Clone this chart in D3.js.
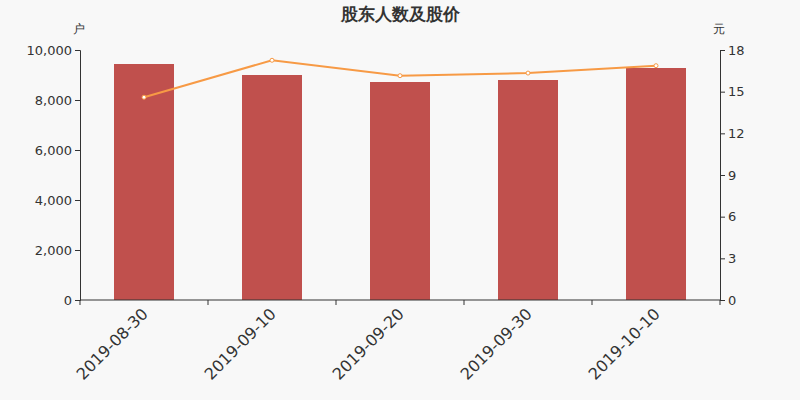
<!DOCTYPE html>
<html>
<head>
<meta charset="utf-8">
<script src="https://cdn.jsdelivr.net/npm/d3@7"></script>
<style>
body { margin: 0; background: #f8f8f8; }
svg { display: block; font-family: "DejaVu Sans", sans-serif; }
</style>
</head>
<body>
<script>
var w = 800;
var h = 400;
var dates = ['2019-08-30', '2019-09-10', '2019-09-20', '2019-09-30', '2019-10-10'];
var holders = [9440, 9000, 8720, 8800, 9280];
var prices = [14.6, 17.26, 16.15, 16.34, 16.87];
var leftTicks = [0, 2000, 4000, 6000, 8000, 10000];
var rightTicks = [0, 3, 6, 9, 12, 15, 18];

var margin = {top: 50, right: 80, bottom: 100, left: 80};

var svg = d3.select('body')
   .append('svg')
   .attr('width', w)
   .attr('height', h);

svg.append('rect')
   .attr('width', w)
   .attr('height', h)
   .attr('fill', '#f8f8f8');

var x = d3.scaleBand()
   .domain(dates)
   .range([margin.left, w - margin.right]);
var yL = d3.scaleLinear()
   .domain([0, 10000])
   .range([h - margin.bottom, margin.top]);
var yR = d3.scaleLinear()
   .domain([0, 18])
   .range([h - margin.bottom, margin.top]);

var barW = 60;

// bars
svg.selectAll('rect.bar')
   .data(holders)
   .enter()
   .append('rect')
   .attr('class', 'bar')
   .attr('x', function(d, i) { return x(dates[i]) + x.bandwidth() / 2 - barW / 2; })
   .attr('y', function(d) { return yL(d); })
   .attr('width', barW)
   .attr('height', function(d) { return yL(0) - yL(d); })
   .attr('fill', '#c0504d');

// price line
var line = d3.line()
   .x(function(d, i) { return x(dates[i]) + x.bandwidth() / 2; })
   .y(function(d) { return yR(d); });

svg.append('path')
   .datum(prices)
   .attr('d', line)
   .attr('fill', 'none')
   .attr('stroke', '#f79a45')
   .attr('stroke-width', 2);

svg.selectAll('circle')
   .data(prices)
   .enter()
   .append('circle')
   .attr('cx', function(d, i) { return x(dates[i]) + x.bandwidth() / 2; })
   .attr('cy', function(d) { return yR(d); })
   .attr('r', 2)
   .attr('fill', '#fff')
   .attr('stroke', '#f79a45')
   .attr('stroke-width', 1);

// axes
var leftAxis = d3.axisLeft(yL).tickValues(leftTicks).tickSize(5).tickFormat(d3.format(','));
var rightAxis = d3.axisRight(yR).tickValues(rightTicks).tickSize(5);
var bottomAxis = d3.axisBottom(x).tickSize(0).tickFormat('');

function styleAxis(g) {
   g.select('.domain').attr('stroke', '#333');
   g.selectAll('.tick line').attr('stroke', '#333');
   g.selectAll('.tick text')
      .attr('fill', '#333')
      .attr('font-size', '13px')
      .attr('font-family', '"DejaVu Sans", sans-serif');
}

svg.append('g')
   .attr('transform', 'translate(' + margin.left + ',0)')
   .call(leftAxis)
   .call(styleAxis);

svg.append('g')
   .attr('transform', 'translate(' + (w - margin.right) + ',0)')
   .call(rightAxis)
   .call(styleAxis);

var gx = svg.append('g')
   .attr('transform', 'translate(0,' + (h - margin.bottom) + ')')
   .call(bottomAxis)
   .call(styleAxis);
gx.select('.domain').attr('d', 'M' + margin.left + ',0H' + (w - margin.right));

// tick marks at band boundaries
var bounds = dates.map(function(d) { return x(d); }).concat([w - margin.right]);
gx.selectAll('line.bound')
   .data(bounds)
   .enter()
   .append('line')
   .attr('class', 'bound')
   .attr('x1', function(d) { return d; })
   .attr('x2', function(d) { return d; })
   .attr('y1', 0)
   .attr('y2', 5)
   .attr('stroke', '#333');

// rotated date labels
svg.selectAll('text.date')
   .data(dates)
   .enter()
   .append('text')
   .attr('class', 'date')
   .attr('transform', function(d) {
      return 'translate(' + (x(d) + x.bandwidth() / 2 + 1) + ',' + (h - margin.bottom + 11) + ') rotate(-45)';
   })
   .attr('text-anchor', 'end')
   .attr('dy', '0.35em')
   .attr('font-size', '16px')
   .attr('fill', '#333')
   .text(function(d) { return d; });

// title and unit labels
svg.append('text')
   .attr('x', w / 2)
   .attr('y', 20)
   .attr('text-anchor', 'middle')
   .attr('font-size', '17px')
   .attr('font-weight', 'bold')
   .attr('fill', '#333')
   .text('股东人数及股价');

svg.append('text')
   .attr('x', 79)
   .attr('y', 33)
   .attr('text-anchor', 'middle')
   .attr('font-size', '12px')
   .attr('fill', '#333')
   .text('户');

svg.append('text')
   .attr('x', 719)
   .attr('y', 33)
   .attr('text-anchor', 'middle')
   .attr('font-size', '12px')
   .attr('fill', '#333')
   .text('元');
</script>
</body>
</html>
